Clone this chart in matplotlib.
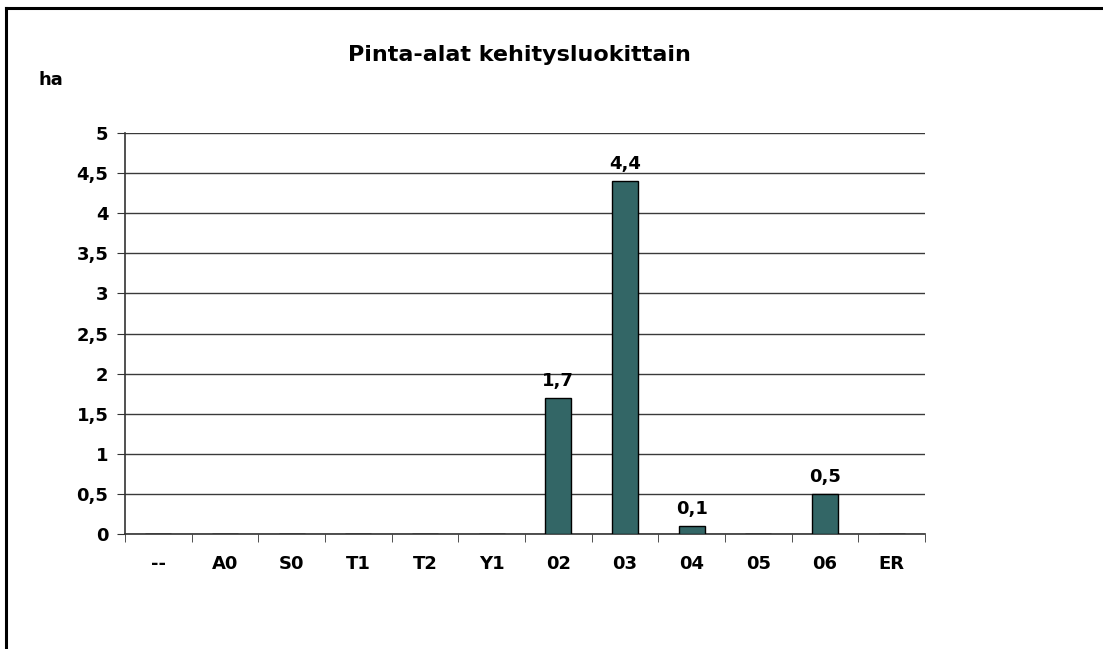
import matplotlib.pyplot as plt
from matplotlib.lines import Line2D
from matplotlib.ticker import FuncFormatter

# data
categories = ['--', 'A0', 'S0', 'T1', 'T2', 'Y1', '02', '03', '04', '05', '06', 'ER']
values = [0, 0, 0, 0, 0, 0, 1.7, 4.4, 0.1, 0, 0.5, 0]

bar_color = '#336666'

fig = plt.figure(figsize=(11.03, 6.49), dpi=100)
W, H = 1103, 649

# outer frame (left and top edges visible)
fig.add_artist(Line2D([6 / W, 6 / W], [0, 1 - 8 / H], color='black', lw=2.2))
fig.add_artist(Line2D([6 / W, 1], [1 - 8 / H, 1 - 8 / H], color='black', lw=2.2))

ax = fig.add_axes([125 / W, 1 - 534 / H, 800 / W, 401 / H])

x = range(len(categories))
bars = ax.bar(x, values, width=0.39, color=bar_color, edgecolor='black', linewidth=1, zorder=3)

for xi, v in zip(x, values):
    if v > 0:
        ax.text(xi, v + 0.1, f'{v:.1f}'.replace('.', ','), ha='center', va='bottom',
                fontsize=13, fontweight='bold')

ax.set_xlim(-0.5, len(categories) - 0.5)
ax.set_ylim(0, 5)
ax.set_yticks([i * 0.5 for i in range(11)])
ax.yaxis.set_major_formatter(FuncFormatter(lambda v, p: f'{v:g}'.replace('.', ',')))
ax.grid(axis='y', color='#3a3a3a', lw=1, zorder=0)

ax.set_xticks(list(x))
ax.set_xticklabels(categories)
ax.set_xticks([i - 0.5 for i in range(len(categories) + 1)], minor=True)
ax.tick_params(axis='x', which='major', length=0, pad=15)
ax.tick_params(axis='x', which='minor', length=6, direction='out', color='#333333')
ax.tick_params(axis='y', length=6, direction='out', color='#333333', pad=6)
for lab in ax.get_xticklabels() + ax.get_yticklabels():
    lab.set_fontsize(13)
    lab.set_fontweight('bold')

for side in ['top', 'right']:
    ax.spines[side].set_visible(False)
for side in ['left', 'bottom']:
    ax.spines[side].set_color('#333333')
    ax.spines[side].set_linewidth(1.2)

fig.text(519 / W, 1 - 55 / H, 'Pinta-alat kehitysluokittain', ha='center', va='center',
         fontsize=16, fontweight='bold')
fig.text(38 / W, 1 - 80 / H, 'ha', ha='left', va='center', fontsize=13, fontweight='bold')

fig.savefig('out.png', dpi=100)
